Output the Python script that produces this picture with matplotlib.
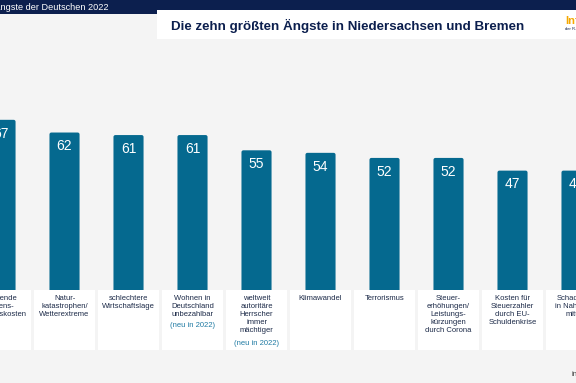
import matplotlib.pyplot as plt
from matplotlib.patches import FancyBboxPatch, Rectangle

# Daten
labels = ['Steigende\nLebens-\nhaltungskosten',
          'Natur-\nkatastrophen/\nWetterextreme',
          'schlechtere\nWirtschaftslage',
          'Wohnen in\nDeutschland\nunbezahlbar',
          'weltweit\nautoritäre\nHerrscher\nimmer\nmächtiger',
          'Klimawandel',
          'Terrorismus',
          'Steuer-\nerhöhungen/\nLeistungs-\nkürzungen\ndurch Corona',
          'Kosten für\nSteuerzahler\ndurch EU-\nSchuldenkrise',
          'Schadstoffe\nin Nahrungs-\nmitteln']
werte = [67, 62, 61, 61, 55, 54, 52, 52, 47, 47]
neu_2022 = [False, False, False, True, True, False, False, False, False, False]

titel = 'Die zehn größten Ängste in Niedersachsen und Bremen'
kopf = 'Die Ängste der Deutschen 2022'

blau = '#05698f'
navy = '#0c1f4e'
hinter = '#f4f4f4'

W, H = 576, 383
fig = plt.figure(figsize=(W / 100, H / 100), dpi=100)
fig.patch.set_facecolor(hinter)

# axes over whole figure, y=0 at pixel row 290, 2.54 px per unit
px_per_unit = 2.54
y0 = 290
ax = fig.add_axes([0, 0, 1, 1])
ax.set_facecolor(hinter)
ax.set_xlim(-0.008, 8.992)
ax.set_ylim((y0 - H) / px_per_unit, y0 / px_per_unit)
ax.axis('off')

line_h = 9 / px_per_unit
box_h = 60 / px_per_unit
aspect = (W / 9.0) / px_per_unit

for i, (lab, v) in enumerate(zip(labels, werte)):
    # bar with slightly rounded top
    bar = FancyBboxPatch((i - 0.235, -1.5), 0.47, v + 1.5,
                         boxstyle='round,pad=0,rounding_size=0.03',
                         mutation_aspect=aspect,
                         facecolor=blau, edgecolor='none', zorder=2)
    ax.add_patch(bar)
    ax.text(i, v - 5.4, str(v), ha='center', va='center', color='white',
            fontsize=10, family='Liberation Sans', zorder=4)
    # white label box
    ax.add_patch(Rectangle((i - 0.476, -box_h), 0.952, box_h,
                           facecolor='white', edgecolor='none', zorder=3))
    ax.text(i, -2.0, lab, ha='center', va='top', color='#1c2a48',
            fontsize=5.5, family='Liberation Sans', linespacing=1.2, zorder=4)
    if neu_2022[i]:
        n = lab.count('\n') + 1
        ax.text(i, -2.0 - n * line_h, '(neu in 2022)', ha='center', va='top',
                color='#1f7aa3', fontsize=5.5, family='Liberation Sans', zorder=4)

# Kopfzeile
fig.patches.append(Rectangle((0, 1 - 14 / H), 1, 14 / H, transform=fig.transFigure,
                             facecolor=navy, edgecolor='none', zorder=5))
fig.patches.append(Rectangle((157 / W, 1 - 39 / H), 1 - 157 / W, 29 / H,
                             transform=fig.transFigure, facecolor='white',
                             edgecolor='none', zorder=6))
fig.text(108 / W, 1 - 7.5 / H, kopf, ha='right', va='center', color='white',
         fontsize=6.6, family='Liberation Sans', zorder=7)
fig.text(348 / W, 1 - 25.5 / H, titel, ha='center', va='center', color=navy,
         fontsize=9.6, fontweight='bold', family='Liberation Sans', zorder=7)
fig.text(565 / W, 1 - 21 / H, 'Info', ha='left', va='center', color='#f5a800',
         fontsize=8, fontweight='bold', family='Liberation Sans', zorder=7)
fig.text(565 / W, 1 - 29.5 / H, 'der R+V', ha='left', va='center', color=navy,
         fontsize=3, family='Liberation Sans', zorder=7)
fig.text(571 / W, 1 - 375 / H, 'infocenter', ha='left', va='center', color='#333333',
         fontsize=5.5, family='Liberation Sans', zorder=7)

fig.savefig('out.png', dpi=100, facecolor=fig.get_facecolor())
